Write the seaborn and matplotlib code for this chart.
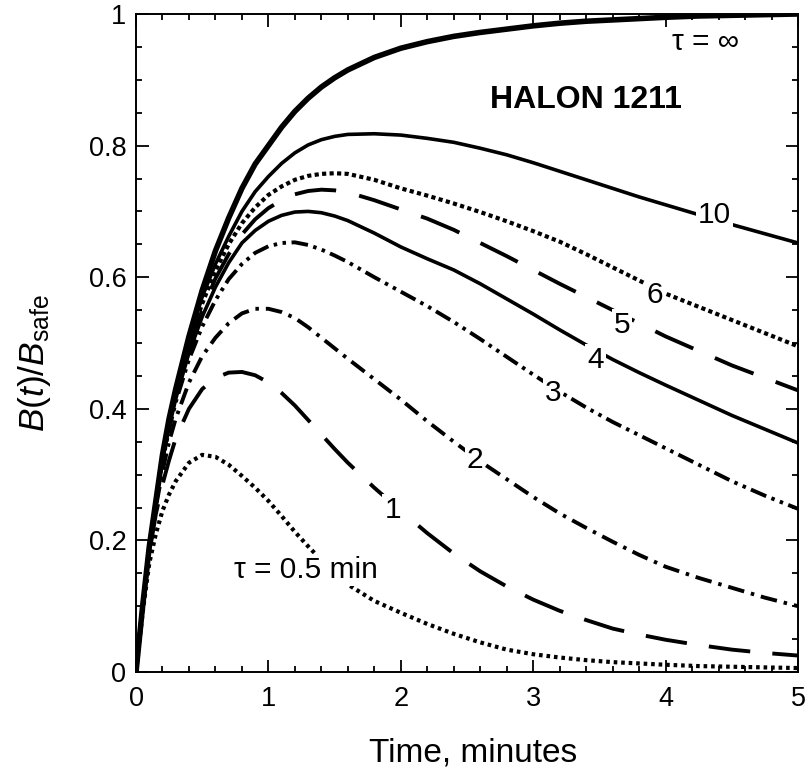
import matplotlib
matplotlib.use("Agg")
import matplotlib.pyplot as plt
from matplotlib.ticker import MultipleLocator, FixedLocator, FixedFormatter
import seaborn as sns
import pandas as pd

# ---- data ----
t_min = [0, 0.05, 0.1, 0.15, 0.2, 0.25, 0.3, 0.4, 0.5, 0.6, 0.7, 0.8, 0.9, 1.0,
         1.1, 1.2, 1.3, 1.4, 1.5, 1.6, 1.8, 2.0, 2.2, 2.4, 2.6, 2.8, 3.0, 3.2,
         3.4, 3.6, 3.8, 4.0, 4.25, 4.5, 4.75, 5.0]

b_inf = [0, .10, .19, .26, .33, .385, .43, .51, .58, .64, .69, .735, .772, .80,
         .828, .852, .872, .889, .903, .915, .934, .948, .958, .966, .972, .977, .982, .986,
         .989, .991, .993, .995, .997, .998, .999, 1.0]
b_10 = [0, .10, .19, .26, .33, .385, .43, .505, .57, .62, .662, .70, .73, .753,
        .773, .789, .801, .809, .814, .817, .818, .816, .811, .805, .796, .786, .774, .761,
        .748, .735, .722, .71, .695, .68, .666, .652]
b_6 = [0, .10, .19, .26, .33, .38, .425, .50, .56, .61, .65, .682, .706, .725,
       .738, .748, .754, .757, .758, .757, .748, .735, .724, .712, .699, .685, .670, .654,
       .635, .615, .595, .575, .555, .535, .515, .495]
b_5 = [0, .10, .19, .26, .325, .375, .42, .495, .55, .598, .635, .665, .688, .705,
       .717, .726, .731, .733, .732, .729, .717, .703, .689, .672, .652, .632, .611, .59,
       .57, .55, .53, .51, .488, .466, .447, .428]
b_4 = [0, .10, .19, .26, .325, .372, .415, .485, .54, .585, .622, .652, .671, .685,
       .694, .699, .700, .698, .693, .686, .667, .646, .628, .611, .59, .567, .544, .52,
       .497, .475, .455, .436, .413, .39, .369, .348]
b_3 = [0, .10, .19, .26, .32, .368, .41, .475, .525, .565, .597, .62, .637, .647,
       .652, .653, .649, .642, .633, .623, .60, .578, .556, .532, .506, .479, .452, .426,
       .402, .38, .36, .34, .315, .29, .268, .248]
b_2 = [0, .10, .185, .25, .305, .35, .385, .44, .48, .508, .53, .545, .552, .552,
       .547, .538, .524, .508, .492, .476, .445, .414, .381, .35, .32, .293, .266, .241,
       .219, .198, .178, .16, .143, .128, .113, .10]
b_1 = [0, .10, .18, .24, .285, .322, .355, .40, .43, .447, .455, .456, .451, .44,
       .424, .405, .383, .361, .339, .318, .28, .245, .211, .18, .153, .13, .11, .093,
       .079, .066, .057, .049, .041, .034, .029, .025]
b_05 = [0, .09, .165, .21, .245, .27, .29, .318, .33, .327, .315, .298, .28, .26,
        .237, .213, .191, .17, .151, .133, .108, .09, .073, .058, .045, .034, .027, .022,
        .018, .015, .013, .011, .009, .008, .007, .006]

curve_names = ["inf", "10", "6", "5", "4", "3", "2", "1", "0.5"]
curve_values = [b_inf, b_10, b_6, b_5, b_4, b_3, b_2, b_1, b_05]

x_ticks = [0, 1, 2, 3, 4, 5]
x_tick_labels = ["0", "1", "2", "3", "4", "5"]
y_ticks = [0, 0.2, 0.4, 0.6, 0.8, 1.0]
y_tick_labels = ["0", "0.2", "0.4", "0.6", "0.8", "1"]

# ---- styling ----
sns.set_theme(style="ticks")
plt.rcParams["font.family"] = ["Liberation Sans", "DejaVu Sans"]
plt.rcParams["text.color"] = "black"
plt.rcParams["axes.labelcolor"] = "black"
plt.rcParams["xtick.color"] = "black"
plt.rcParams["ytick.color"] = "black"
plt.rcParams["mathtext.fontset"] = "custom"
plt.rcParams["mathtext.rm"] = "Liberation Sans"
plt.rcParams["mathtext.it"] = "Liberation Sans:italic"
plt.rcParams["lines.scale_dashes"] = False

styles = {
    "inf": dict(lw=4.0, ls="-"),
    "10": dict(lw=2.6, ls="-"),
    "6": dict(lw=3.0, ls=(0, (3.0, 2.4))),
    "5": dict(lw=2.8, ls=(0, (30, 17))),
    "4": dict(lw=2.6, ls="-"),
    "3": dict(lw=2.8, ls=(0, (12, 4, 2.5, 4, 2.5, 4))),
    "2": dict(lw=2.8, ls=(0, (12, 5, 2.5, 5))),
    "1": dict(lw=2.8, ls=(0, (30, 16))),
    "0.5": dict(lw=3.0, ls=(0, (2.6, 2.8))),
}

rows = []
for name, vals in zip(curve_names, curve_values):
    for tt, vv in zip(t_min, vals):
        rows.append({"t": tt, "B": vv, "tau": name})
df = pd.DataFrame(rows)

fig = plt.figure(figsize=(8.1, 7.74), dpi=100)
ax = fig.add_axes([136 / 810, 1 - 672 / 774, 662 / 810, 658 / 774])

for name in curve_names:
    sub = df[df["tau"] == name]
    st = styles[name]
    sns.lineplot(data=sub, x="t", y="B", ax=ax, color="black", lw=st["lw"],
                 estimator=None, sort=False, legend=False)
    ln = ax.lines[-1]
    ln.set_linestyle(st["ls"])
    ln.set_solid_capstyle("butt")
    ln.set_dash_capstyle("butt")
    ln.set_solid_joinstyle("round")

ax.set_xlim(0, 5)
ax.set_ylim(0, 1)
ax.xaxis.set_major_locator(FixedLocator(x_ticks))
ax.xaxis.set_major_formatter(FixedFormatter(x_tick_labels))
ax.xaxis.set_minor_locator(MultipleLocator(0.2))
ax.yaxis.set_major_locator(FixedLocator(y_ticks))
ax.yaxis.set_major_formatter(FixedFormatter(y_tick_labels))
ax.yaxis.set_minor_locator(MultipleLocator(0.05))

ax.tick_params(which="both", direction="in", top=True, right=True,
               colors="black", width=1.3)
ax.tick_params(which="major", length=9, labelsize=19.5, pad=10)
ax.tick_params(which="minor", length=4.5)
ax.tick_params(axis="y", which="major", pad=7)
for sp in ax.spines.values():
    sp.set_linewidth(1.4)
    sp.set_color("black")
    sp.set_visible(True)

ax.set_xlabel("Time, minutes", fontsize=24, color="black")
ax.xaxis.set_label_coords(0.51, -0.10)
ax.xaxis.label.set_va("top")
ax.set_ylabel(r"$B(t)/B_{\rm safe}$", fontsize=25.5, color="black")
ax.yaxis.set_label_coords(-0.125, 0.47)

box = dict(facecolor="white", edgecolor="none", pad=1.5)
fs = 21.5
ax.text(4.3, 0.957, "τ = ∞", fontsize=fs, ha="center", va="center", zorder=5)
ax.text(3.4, 0.87, "HALON 1211", fontsize=23, fontweight="bold",
        ha="center", va="center", zorder=5)
ax.text(4.37, 0.695, "10", fontsize=fs, ha="center", va="center", bbox=box, zorder=5)
ax.text(3.92, 0.573, "6", fontsize=fs, ha="center", va="center", bbox=box, zorder=5)
ax.text(3.67, 0.527, "5", fontsize=fs, ha="center", va="center", bbox=box, zorder=5)
ax.text(3.47, 0.474, "4", fontsize=fs, ha="center", va="center", bbox=box, zorder=5)
ax.text(3.15, 0.424, "3", fontsize=fs, ha="center", va="center", bbox=box, zorder=5)
ax.text(2.56, 0.322, "2", fontsize=fs, ha="center", va="center", bbox=box, zorder=5)
ax.text(1.94, 0.246, "1", fontsize=fs, ha="center", va="center", bbox=box, zorder=5)
ax.text(1.28, 0.155, "τ = 0.5 min", fontsize=fs, ha="center", va="center",
        bbox=box, zorder=5)

fig.savefig("out.png", dpi=100, facecolor="white")
